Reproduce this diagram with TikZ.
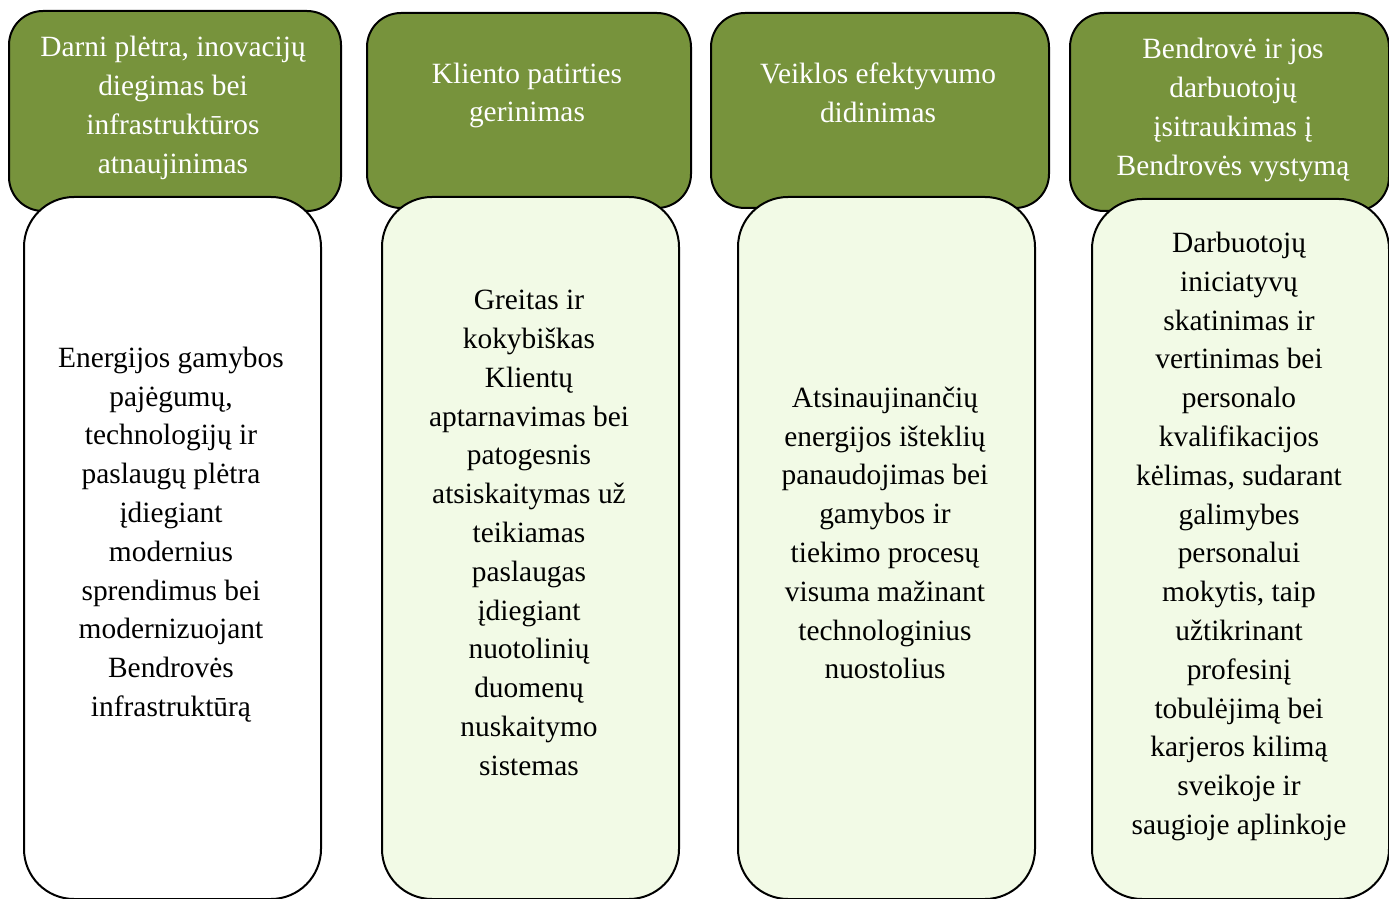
\documentclass[tikz,border=0pt]{standalone}
\usepackage{fontspec}
\setmainfont{Liberation Serif}
\usetikzlibrary{positioning}
\definecolor{headgreen}{HTML}{77933C}
\definecolor{bodygreen}{HTML}{F2FAE6}
\tikzstyle{head} = [draw, rectangle, rounded corners=17pt, fill=headgreen, line width=1pt, anchor=north west, minimum height=97.5pt]
\tikzstyle{body} = [draw, rectangle, rounded corners=25pt, fill=bodygreen, line width=1pt, anchor=north west, minimum width=148.5pt, minimum height=351pt]
\tikzstyle{headtext} = [text=white, align=center, font=\fontsize{14.7}{19.4}\selectfont]
\tikzstyle{bodytext} = [align=center, font=\fontsize{14.7}{19.4}\selectfont]

\begin{document}
\begin{tikzpicture}[x=0.5pt,y=-0.5pt]
    \useasboundingbox (0,0) rectangle (1389,899);
    % headers
    \node [head, minimum width=166pt, minimum height=100pt] (h1) at (8,10) {};
    \node [head, minimum width=162pt] (h2) at (366,12) {};
    \node [head, minimum width=169pt] (h3) at (710,12) {};
    \node [head, minimum width=159.5pt, minimum height=99pt] (h4) at (1069,12) {};
    % bodies
    \node [body, fill=white] (b1) at (23,196) {};
    \node [body] (b2) at (381,196) {};
    \node [body] (b3) at (737,196) {};
    \node [body, minimum height=350pt] (b4) at (1091,198) {};

    \node [headtext] (t1) at (173,108) {Darni plėtra, inovacijų\\diegimas bei\\infrastruktūros\\atnaujinimas};
    \node [headtext] (t2) at (527,95.5) {Kliento patirties\\gerinimas};
    \node [headtext] (t3) at (878,93) {Veiklos efektyvumo\\didinimas};
    \node [headtext] (t4) at (1233,110) {Bendrovė ir jos\\darbuotojų\\įsitraukimas į\\Bendrovės vystymą};

    \node [bodytext] (s1) at (171,534.5) {Energijos gamybos\\pajėgumų,\\technologijų ir\\paslaugų plėtra\\įdiegiant\\modernius\\sprendimus bei\\modernizuojant\\Bendrovės\\infrastruktūrą};
    \node [bodytext] (s2) at (529,533) {Greitas ir\\kokybiškas\\Klientų\\aptarnavimas bei\\patogesnis\\atsiskaitymas už\\teikiamas\\paslaugas\\įdiegiant\\nuotolinių\\duomenų\\nuskaitymo\\sistemas};
    \node [bodytext] (s3) at (885,533) {Atsinaujinančių\\energijos išteklių\\panaudojimas bei\\gamybos ir\\tiekimo procesų\\visuma mažinant\\technologinius\\nuostolius};
    \node [bodytext] (s4) at (1239,536.5) {Darbuotojų\\iniciatyvų\\skatinimas ir\\vertinimas bei\\personalo\\kvalifikacijos\\kėlimas, sudarant\\galimybes\\personalui\\mokytis, taip\\užtikrinant\\profesinį\\tobulėjimą bei\\karjeros kilimą\\sveikoje ir\\saugioje aplinkoje};
\end{tikzpicture}
\end{document}
